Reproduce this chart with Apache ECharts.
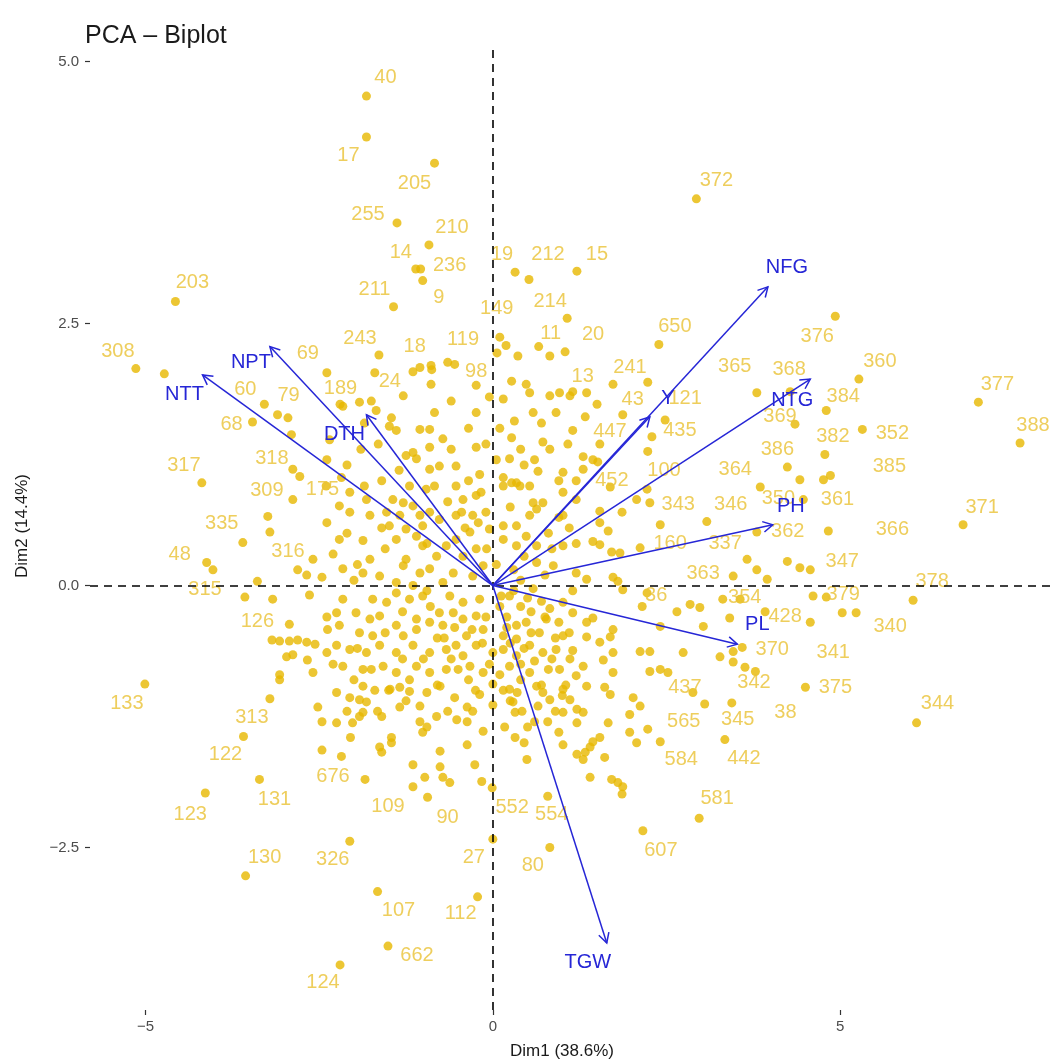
<!DOCTYPE html>
<html>
<head>
<meta charset="utf-8">
<title>PCA - Biplot</title>
<script src="https://cdn.jsdelivr.net/npm/echarts@6/dist/echarts.min.js"></script>
<style>
  html, body { margin: 0; padding: 0; background: #fff; }
  #chart { width: 1055px; height: 1064px; }
</style>
</head>
<body>
<div id="chart"></div>
<script>
// variables (arrow tips)
var varNames = ['NTT', 'NPT', 'DTH', 'Y', 'NFG', 'NTG', 'PH', 'PL', 'TGW'];
var varX = [-4.18, -3.21, -1.82, 2.26, 3.96, 4.57, 4.03, 3.52, 1.64];
var varY = [2.01, 2.28, 1.63, 1.61, 2.85, 1.97, 0.58, -0.56, -3.41];

// individuals that carry a label
var indNames = ['203','308','40','17','205','255','210','14','236','9','211','19','212','15','149','119','214','11','20','243','18','650','372',
  '376','360','377','388','384','352','382','385','361','366','371','347','378','379','340','341','375','344',
  '365','368','369','241','43','13','121','447','435','386','364','100','452','343','346','350','362','160','337','363','36','354','428','370','342','38',
  '437','565','345','584','442','581','607','80','27','554','552','90','109','676','107','112','662','124','130','326','131','123','122','313','133',
  '126','315','48','335','316','309','317','318','175','68','60','79','69','189','24','98'];
var indX = [-4.57,-5.14,-1.82,-1.82,-0.84,-1.38,-0.92,-1.11,-1.04,-1.01,-1.43,0.32,0.52,1.21,0.10,0.19,1.07,0.66,1.04,-1.64,-0.65,2.39,2.93,
  4.93,5.27,6.99,7.59,4.80,5.32,4.78,4.86,4.76,4.83,6.77,4.57,6.05,5.03,5.23,4.57,4.50,6.10,
  3.80,4.28,4.35,1.73,1.35,1.15,2.48,1.54,2.29,4.24,3.85,2.22,1.54,2.41,3.08,4.47,3.80,2.12,3.66,3.46,2.15,3.31,3.92,3.59,3.63,3.78,
  2.52,3.05,3.44,2.41,3.34,2.97,2.16,0.82,0.00,0.79,-0.01,-0.94,-1.84,-2.46,-1.66,-0.22,-1.51,-2.20,-3.56,-2.06,-3.36,-4.14,-3.59,-3.21,-5.01,
  -2.93,-4.03,-4.12,-3.60,-2.59,-2.88,-4.19,-2.88,-2.18,-3.46,-3.29,-3.10,-2.39,-1.92,-1.70,-0.24];
var indY = [2.71,2.07,4.67,4.28,4.03,3.46,3.25,3.02,3.02,2.91,2.66,2.99,2.92,3.00,2.37,2.29,2.55,2.28,2.23,2.20,2.13,2.30,3.69,
  2.57,1.97,1.75,1.36,1.67,1.49,1.25,1.05,1.01,0.52,0.58,0.15,-0.14,-0.26,-0.26,-0.35,-0.97,-1.31,
  1.84,1.85,1.54,1.92,1.84,1.85,1.58,1.35,1.42,1.13,0.94,0.92,0.71,0.58,0.61,0.82,0.51,0.36,0.25,0.09,-0.20,-0.13,-0.25,-0.59,-0.78,-0.82,
  -0.83,-1.13,-1.12,-1.49,-1.47,-2.22,-2.34,-2.50,-2.42,-2.01,-1.93,-2.02,-1.85,-1.57,-2.92,-2.97,-3.44,-3.62,-2.77,-2.44,-1.85,-1.98,-1.44,-1.08,-0.94,
  -0.37,0.15,0.22,0.41,0.25,0.82,0.98,1.11,1.03,1.56,1.73,1.63,2.03,1.75,2.03,1.91];

// individuals without a visible label
var cloudX = [-1.05,-0.89,-0.55,0.27,0.48,0.96,1.11,-1.29,-0.89,-0.60,0.15,0.53,0.82,-2.16,-1.75,
  -1.68,-1.46,-1.05,-0.91,-0.84,-0.24,0.31,0.58,0.91,1.15,-1.49,-1.39,-0.72,-0.24,0.27,0.72,0.82,1.08,-1.25,-1.15,-0.91,
  -1.10,-0.91,-0.77,-0.53,-0.19,0.24,0.65,1.01,0.15,0.34,-2.06,-1.82,-1.44,-1.29,-0.96,-0.84,-0.53,-0.43,-0.24,-0.17,0.15,0.27,0.39,0.53,0.58,0.72,1.01,1.20,-2.21,-2.06,
  -1.77,-1.53,-1.34,-1.15,-1.05,-0.91,-0.77,-0.53,-0.45,-0.29,-0.21,0.15,0.34,0.53,0.63,1.01,-1.49,-1.25,-1.01,-0.05,
  -2.21,-1.87,-1.39,-1.10,-1.01,-0.67,-0.53,-0.33,-0.43,-0.24,-0.09,0.15,0.34,0.48,0.63,1.01,-1.77,-1.25,-0.81,
  -2.16,-1.87,-1.29,-1.05,-0.91,-0.57,-0.29,-0.14,0.63,0.87,1.20,-1.63,-1.39,-0.72,
  -2.16,-1.73,-1.53,-1.39,-1.20,-1.01,-0.62,-0.43,-0.19,0.24,0.58,0.82,1.01,1.15,-2.25,-1.97,-1.77,
  -1.63,-1.39,-1.10,-0.91,-0.77,-0.57,-0.43,-0.24,0.34,0.48,0.77,-2.21,-1.92,-1.73,-1.29,-1.10,-0.72,-0.38,-0.14,0.15,0.34,0.67,1.01,
  -2.25,-2.06,-1.82,-1.63,-1.39,-1.15,-0.91,-0.67,-0.53,-0.43,-0.24,0.00,0.15,0.34,0.53,0.72,0.91,1.11,-2.16,-1.87,-1.58,-1.39,-1.10,-0.91,-0.67,-0.33,-0.14,0.24,0.53,0.96,1.20,
  -4.73,-2.95,-2.90,-2.78,-2.39,-3.24,-3.21,-3.39,-2.81,-2.68,-2.46,-3.57,-3.17,-2.64,-2.39,-3.18,-3.07,-2.93,-2.81,-2.68,-2.56,-2.97,-2.88,-2.67,-2.39,-3.07,-2.59,-2.38,-2.20,-1.15,-0.88,-2.39,-2.35,
  0.06,0.36,0.82,
  2.23,1.50,1.33,1.87,2.23,1.30,1.44,1.51,1.30,4.42,2.07,2.26,1.69,1.86,1.54,1.66,1.44,1.54,1.71,1.83,4.24,4.42,3.80,3.95,1.35,1.73,1.80,1.87,2.22,4.61,2.65,2.84,2.98,3.56,3.41,1.35,1.44,3.03,2.41,1.73,1.69,1.35,3.46,1.54,1.73,2.12,2.26,2.74,3.27,1.59,3.46,1.30,2.26,2.41,1.73,
  1.35,1.61,1.69,2.02,2.12,1.97,1.66,1.30,2.88,2.23,1.97,2.07,1.54,1.44,1.40,1.33,1.30,1.61,1.40,1.71,1.80,1.87,1.86,
  -2.25,-2.06,-1.92,-1.82,-1.87,-1.66,-1.34,-1.48,-1.34,-1.20,-0.95,-0.76,-0.55,-0.37,-0.29,-0.19,0.00,0.00,-2.25,-2.02,-1.92,-1.87,-1.05,-0.95,-1.01,-0.81,-0.52,-0.37,-0.14,-0.37,
  -1.63,-1.60,-1.46,-1.46,-1.15,-0.76,-0.76,-0.98,-1.15,-0.72,-0.62,-0.26,-0.16,0.17,0.32,0.32,0.50,0.49,
  0.24,0.35,0.63,0.72,0.82,1.01,1.11,1.21,1.01,1.21,0.79,1.01,1.21,0.42,0.29,
  -2.52,-2.46,-3.07,-2.18,4.80,
  0.10,0.20,0.40,0.55,0.70,0.95,1.10,0.25,0.45,0.60,0.80,1.05,0.10,0.40,0.65,0.90,0.15,1.15,
  -0.90,-0.80,-0.55,-0.30,-0.10,-0.60,-0.35,-0.80,-1.20,-1.50,-0.05,-1.30,-1.55,-1.95,
  0.05,0.30,0.45,0.80,0.95,0.40,0.05,-0.35,-0.05,0.70,1.20,0.85,1.10,
  -1.65,-1.90,-2.10,-1.60,-1.85,-2.30,-2.00,-1.55,-1.15,-0.95,
  -2.00,-1.70,-2.10,-1.25,
  0.12,0.30,0.50,0.75,0.90,0.20,0.55,0.40,0.70,0.25,1.00,0.85,0.60,0.45,0.95,
  -0.15,-0.50,-0.70,-1.00,-1.30,-1.75,-2.30,-0.25,-0.65,-1.05,-1.60,-2.05,
  -0.10,-0.40,-0.65,-0.95,-1.20,-1.60,-1.95,-0.35,-0.10,-0.60,-1.35,-2.40,-2.10,-1.85,
  0.25,0.45,0.10,0.60,0.95,1.20,0.75,1.15,0.40];
var cloudY = [2.08,2.10,2.11,1.95,1.92,1.84,1.81,1.81,1.92,1.76,1.78,1.84,1.81,1.71,1.76,
  1.67,1.60,1.49,1.49,1.65,1.65,1.57,1.65,1.65,1.48,1.52,1.48,1.40,1.32,1.41,1.37,1.30,1.35,1.24,1.27,1.32,
  1.21,1.11,1.14,1.14,1.06,1.21,1.09,1.08,1.03,0.98,0.89,0.82,0.82,0.79,0.92,0.95,0.95,0.82,0.86,0.89,0.95,0.98,0.95,0.95,0.79,0.79,0.89,0.82,0.76,0.70,
  0.67,0.70,0.67,0.76,0.67,0.70,0.63,0.67,0.70,0.67,0.60,0.57,0.57,0.67,0.73,0.67,0.57,0.54,0.57,0.54,
  0.44,0.43,0.44,0.47,0.38,0.38,0.44,0.51,0.28,0.35,0.35,0.44,0.38,0.47,0.38,0.38,0.25,0.25,0.28,
  0.16,0.12,0.19,0.12,0.16,0.12,0.09,0.19,0.22,0.19,0.12,0.09,0.03,0.03,
  -0.13,-0.13,-0.16,-0.07,-0.13,-0.10,-0.10,-0.16,-0.13,-0.10,-0.03,-0.22,-0.16,-0.26,-0.26,-0.26,-0.32,
  -0.29,-0.38,-0.32,-0.35,-0.26,-0.26,-0.32,-0.29,-0.38,-0.35,-0.32,-0.38,-0.45,-0.48,-0.48,-0.42,-0.38,-0.48,-0.42,-0.48,-0.51,-0.45,-0.48,
  -0.57,-0.61,-0.64,-0.57,-0.64,-0.57,-0.64,-0.61,-0.57,-0.67,-0.57,-0.64,-0.61,-0.67,-0.57,-0.64,-0.61,-0.70,-0.77,-0.80,-0.77,-0.83,-0.77,-0.83,-0.80,-0.77,-0.83,-0.77,-0.83,-0.80,-0.86,
  2.02,1.60,1.44,1.04,0.60,0.66,0.51,0.04,0.15,0.10,0.08,-0.11,-0.13,-0.09,-0.30,-0.52,-0.53,-0.53,-0.52,-0.54,-0.56,-0.68,-0.66,-0.71,-0.64,-0.85,-0.83,-0.42,1.73,2.04,2.06,1.20,1.39,
  2.22,2.19,2.19,
  1.94,1.73,1.61,1.63,1.28,1.23,1.20,1.18,1.11,1.01,0.82,0.79,0.94,0.70,0.60,0.52,0.42,0.39,0.32,0.31,0.23,0.17,0.15,0.06,0.06,0.08,0.04,-0.04,-0.07,-0.10,-0.25,-0.18,-0.21,-0.13,-0.31,-0.35,-0.31,-0.39,-0.39,-0.42,-0.49,-0.49,-0.63,-0.54,-0.64,-0.63,-0.63,-0.64,-0.68,-0.71,-0.73,-0.77,-0.82,-0.80,-0.83,
  -0.96,-0.97,-1.04,-1.07,-1.15,-1.23,-1.31,-1.21,-1.02,-1.37,-1.40,-1.50,-1.45,-1.49,-1.54,-1.59,-1.66,-1.64,-1.83,-1.85,-1.88,-1.92,-1.99,
  -1.02,-1.07,-1.09,-1.11,-0.96,-1.20,-1.16,-0.99,-0.97,-1.01,-1.02,-0.96,-1.07,-1.16,-1.20,-1.04,-0.94,-1.14,-1.31,-1.31,-1.25,-1.21,-1.30,-1.35,-1.40,-1.25,-1.28,-1.30,-1.39,-1.52,
  -1.54,-1.59,-1.45,-1.50,-1.71,-1.58,-1.73,-1.83,-1.92,-1.83,-1.88,-1.71,-1.87,-1.35,-1.21,-1.45,-1.35,-1.66,
  -0.99,-1.02,-0.96,-1.02,-1.09,-0.99,-1.09,-1.18,-1.21,-1.31,-1.30,-1.52,-1.61,-1.20,-1.11,
  -1.16,-1.30,-0.90,-1.63,-0.11,
  -0.20,-0.30,-0.20,-0.25,-0.15,-0.35,-0.45,-0.55,-0.60,-0.72,-0.80,-0.95,-0.85,-0.90,-1.15,-1.20,-1.00,-0.62,
  -0.20,-0.50,-0.40,-0.42,-0.30,-0.70,-0.90,-0.95,-0.90,-1.00,-0.75,-0.25,-0.45,-0.60,
  0.20,0.15,0.28,0.50,1.00,1.30,1.20,1.50,1.80,1.55,1.00,0.35,0.55,
  1.35,1.30,1.15,1.00,0.95,0.30,0.05,0.35,0.00,-0.05,
  -0.90,-1.00,-1.20,-1.10,
  -0.10,-0.05,-0.12,-0.30,-0.50,-0.40,-0.45,-0.75,-0.95,-1.10,-1.05,-0.70,-1.30,-1.50,-1.40,
  -0.55,-0.80,-0.50,-0.70,-0.70,-0.80,-0.75,-1.00,-1.20,-1.15,-1.25,-1.45,
  0.70,0.55,0.80,0.40,0.95,0.55,0.20,1.00,1.35,1.30,1.10,0.95,0.50,1.55,
  0.75,1.15,1.50,1.20,0.65,0.40,0.10,-0.05,0.05];

var xTicks = [-5, 0, 5];
var yTicks = [-2.5, 0, 2.5, 5];

// label placement (pixels, relative to the point)
var labelOffsets = {
  '203':[17,-19],'308':[-18,-17],'40':[19,-19],'17':[-18,18],'205':[-20,20],'255':[-29,-8],'210':[23,-17],'14':[-15,-17],'236':[29,-4],'9':[16,17],
  '211':[-19,-17],'19':[-13,-18],'212':[19,-25],'15':[20,-17],'149':[-3,-29],'119':[-43,-6],'214':[-17,-17],'11':[12,-13],'20':[28,-17],'243':[-19,-16],
  '18':[-33,-16],'650':[16,-18],'372':[20,-18],'376':[-18,20],'360':[21,-18],'377':[19,-18],'388':[13,-18],'384':[17,-14],'352':[30,4],'382':[8,-18],
  '385':[59,-9],'361':[14,20],'366':[64,-2],'371':[19,-17],'347':[32,-8],'378':[19,-19],'379':[1,-18],'340':[34,14],'341':[23,30],'375':[30,0],'344':[21,-19],
  '365':[-22,-26],'368':[-1,-22],'369':[-15,-8],'241':[17,-17],'43':[46,7],'13':[10,-15],'121':[20,-21],'447':[10,-13],'435':[28,-6],'386':[-10,-18],
  '364':[-25,-18],'100':[17,-19],'452':[12,-31],'343':[18,-20],'346':[24,-17],'350':[-25,-1],'362':[31,-1],'160':[30,-4],'337':[-22,-16],'363':[-30,-3],
  '36':[14,-11],'354':[22,-2],'428':[20,5],'370':[30,2],'342':[9,15],'38':[30,41],'437':[17,15],'565':[-21,18],'345':[6,17],'584':[21,18],'442':[19,19],
  '581':[18,-20],'607':[18,20],'80':[-17,18],'27':[-19,18],'554':[4,18],'552':[20,20],'90':[20,20],'109':[23,27],'676':[11,26],'107':[21,19],'112':[-17,17],
  '662':[29,9],'124':[-17,18],'130':[19,-18],'326':[-17,18],'131':[15,20],'123':[-15,21],'122':[-18,18],'313':[-18,19],'133':[-18,19],'126':[-32,-3],
  '315':[-8,20],'48':[-27,-8],'335':[-21,-19],'316':[-25,-8],'309':[-26,-9],'317':[-18,-17],'318':[-21,-11],'175':[-19,12],'68':[-21,2],'60':[-19,-15],
  '79':[11,-19],'69':[-19,-19],'189':[-19,-14],'24':[15,9],'98':[0,-14]
};
var varLabelOffsets = [[-18,20],[-19,16],[-22,20],[18,-18],[19,-19],[-18,21],[18,-18],[20,-20],[-19,20]];

var INDCOL = '#E7B800', INDTXT = '#EAC235', VARCOL = '#2626D6', FONT = '"Liberation Sans", Arial, sans-serif';

function ready(f) { document.readyState === 'loading' ? document.addEventListener('DOMContentLoaded', f) : f(); }

ready(function () {
    var chart = echarts.init(document.getElementById('chart'));
    var cloud = [], labeled = [], arrows = [];
    for (var i = 0; i < cloudX.length; i++) cloud.push([cloudX[i], cloudY[i]]);
    for (var j = 0; j < indNames.length; j++) {
        labeled.push({
            name: indNames[j],
            value: [indX[j], indY[j]],
            label: { offset: labelOffsets[indNames[j]] || [0, -18] }
        });
    }
    for (var k = 0; k < varNames.length; k++) arrows.push([varX[k], varY[k], k]);

    var option = {
        animation: false,
        title: {
            text: 'PCA – Biplot',
            left: 80, top: 19,
            textStyle: { fontFamily: FONT, fontSize: 25, fontWeight: 'normal', color: '#1a1a1a' }
        },
        grid: { left: 90, right: 3, top: 50, bottom: 54 },
        xAxis: {
            type: 'value', min: -5.8, max: 8.05,
            axisLine: { show: false, onZero: false },
            splitLine: { show: false },
            axisTick: { show: true, customValues: xTicks, length: 5, lineStyle: { color: '#333', width: 1.2 } },
            axisLabel: {
                customValues: xTicks, margin: 9, color: '#4d4d4d', fontFamily: FONT, fontSize: 15,
                formatter: function (v) { return String(v).replace('-', '\u2212'); }
            }
        },
        yAxis: {
            type: 'value', min: -4.05, max: 5.11,
            axisLine: { show: false, onZero: false },
            splitLine: { show: false },
            axisTick: { show: true, customValues: yTicks, length: 5, lineStyle: { color: '#333', width: 1.2 } },
            axisLabel: {
                customValues: yTicks, margin: 11, color: '#4d4d4d', fontFamily: FONT, fontSize: 15,
                formatter: function (v) { return v.toFixed(1).replace('-', '\u2212'); }
            }
        },
        graphic: [
            { type: 'text', left: 510, top: 1043, style: { text: 'Dim1 (38.6%)', font: '17px ' + FONT, fill: '#1a1a1a' } },
            { type: 'text', x: 14, y: 578, rotation: Math.PI / 2, style: { text: 'Dim2 (14.4%)', font: '17px ' + FONT, fill: '#1a1a1a' } }
        ],
        series: [{
            type: 'scatter',
            data: cloud,
            symbolSize: 9,
            itemStyle: { color: INDCOL },
            silent: true,
            z: 2,
            markLine: {
                silent: true, symbol: 'none', label: { show: false },
                lineStyle: { color: '#000', type: [8, 6], width: 1.6 },
                data: [{ xAxis: 0 }, { yAxis: 0 }]
            }
        }, {
            type: 'scatter',
            data: labeled,
            symbolSize: 9,
            itemStyle: { color: INDCOL },
            silent: true,
            z: 3,
            label: {
                show: true, position: 'inside', formatter: '{b}',
                color: INDTXT, fontFamily: FONT, fontSize: 20
            }
        }, {
            type: 'custom',
            data: arrows,
            silent: true,
            z: 5,
            renderItem: function (params, api) {
                var o = api.coord([0, 0]);
                var p = api.coord([api.value(0), api.value(1)]);
                var idx = api.value(2);
                var a = Math.atan2(p[1] - o[1], p[0] - o[0]);
                var h = 11, s = 0.5;
                var off = varLabelOffsets[idx];
                return {
                    type: 'group',
                    children: [{
                        type: 'line',
                        shape: { x1: o[0], y1: o[1], x2: p[0], y2: p[1] },
                        style: { stroke: VARCOL, lineWidth: 1.5 }
                    }, {
                        type: 'polyline',
                        shape: { points: [
                            [p[0] - h * Math.cos(a - s), p[1] - h * Math.sin(a - s)],
                            [p[0], p[1]],
                            [p[0] - h * Math.cos(a + s), p[1] - h * Math.sin(a + s)]
                        ] },
                        style: { stroke: VARCOL, fill: null, lineWidth: 1.5 }
                    }, {
                        type: 'text',
                        style: {
                            text: varNames[idx], x: p[0] + off[0], y: p[1] + off[1],
                            align: 'center', verticalAlign: 'middle',
                            font: '20px ' + FONT, fill: VARCOL
                        }
                    }]
                };
            }
        }]
    };
    chart.setOption(option);
    window.addEventListener('resize', chart.resize);
});
</script>
</body>
</html>
